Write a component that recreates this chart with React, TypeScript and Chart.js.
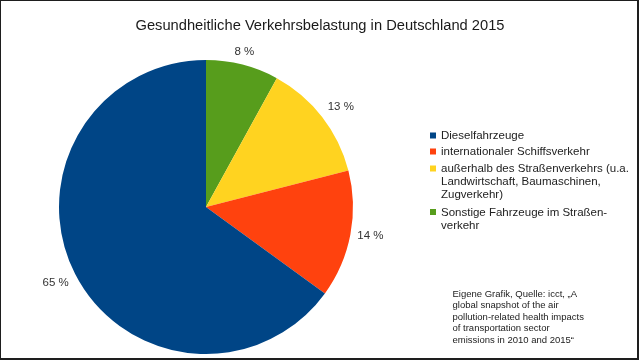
import React, { useEffect, useRef } from "react";
import { Chart, registerables } from "chart.js";

Chart.register(...registerables);

const TITLE = "Gesundheitliche Verkehrsbelastung in Deutschland 2015";
const categories = [
  "Dieselfahrzeuge",
  "internationaler Schiffsverkehr",
  "außerhalb des Straßenverkehrs (u.a. Landwirtschaft, Baumaschinen, Zugverkehr)",
  "Sonstige Fahrzeuge im Straßenverkehr",
];
const values = [65, 14, 13, 8];
const colors = ["#004586", "#ff420e", "#ffd320", "#579d1c"];
const legendLines = [
  ["Dieselfahrzeuge"],
  ["internationaler Schiffsverkehr"],
  ["außerhalb des Straßenverkehrs (u.a.", "Landwirtschaft, Baumaschinen,", "Zugverkehr)"],
  ["Sonstige Fahrzeuge im Straßen-", "verkehr"],
];
const sourceLines = [
  "Eigene Grafik, Quelle: icct, „A",
  "global snapshot of the air",
  "pollution-related health impacts",
  "of transportation sector",
  "emissions in 2010 and 2015“",
];

const FONT = "'Liberation Sans', Arial, sans-serif";

const decorPlugin = {
  id: "decor",
  afterDatasetsDraw(chart: any) {
    const ctx = chart.ctx as CanvasRenderingContext2D;
    ctx.save();
    // slice labels
    const meta = chart.getDatasetMeta(0);
    const data = chart.data.datasets[0].data as number[];
    ctx.font = `11.5px ${FONT}`;
    ctx.fillStyle = "#333333";
    meta.data.forEach((arc: any, i: number) => {
      const p = arc.getProps(["x", "y", "startAngle", "endAngle", "outerRadius"], true);
      const mid = (p.startAngle + p.endAngle) / 2;
      const dx = Math.cos(mid);
      const dy = Math.sin(mid);
      const r = p.outerRadius + 7;
      const px = p.x + r * dx;
      const py = p.y + r * dy;
      ctx.textAlign = dx > 0.3 ? "left" : dx < -0.3 ? "right" : "center";
      ctx.textBaseline = dy < -0.3 ? "bottom" : dy > 0.3 ? "top" : "middle";
      ctx.fillText(`${data[i]} %`, px, py);
    });

    // title
    ctx.font = `14.7px ${FONT}`;
    ctx.fillStyle = "#1a1a1a";
    ctx.textAlign = "center";
    ctx.textBaseline = "alphabetic";
    ctx.fillText(TITLE, 320, 29.5);

    // legend
    const centers = [[135.5], [151.5], [168.5, 181.5, 194.5], [212, 225]];
    ctx.font = `11.5px ${FONT}`;
    ctx.textAlign = "left";
    ctx.textBaseline = "middle";
    legendLines.forEach((lines, i) => {
      ctx.fillStyle = colors[i];
      ctx.fillRect(430, centers[i][0] - 3, 6, 6);
      ctx.fillStyle = "#222222";
      lines.forEach((ln, j) => ctx.fillText(ln, 441, centers[i][j] + 0.5));
    });

    // source note
    ctx.font = `9.5px ${FONT}`;
    ctx.fillStyle = "#222222";
    ctx.textBaseline = "alphabetic";
    sourceLines.forEach((ln, j) => ctx.fillText(ln, 452.5, 297 + j * 11.4));

    // frame
    ctx.fillStyle = "#1e1e1e";
    ctx.fillRect(0, 0, 639, 1);
    ctx.fillRect(0, 0, 1, 360);
    ctx.fillRect(637, 0, 2, 360);
    ctx.fillRect(0, 358, 639, 2);
    ctx.restore();
  },
};

export default function App() {
  const ref = useRef<HTMLCanvasElement | null>(null);
  useEffect(() => {
    document.body.style.margin = "0";
    const canvas = ref.current!;
    const order = [3, 2, 1, 0];
    const chart = new Chart(canvas, {
      type: "pie",
      data: {
        labels: order.map((i) => categories[i]),
        datasets: [
          {
            data: order.map((i) => values[i]),
            backgroundColor: order.map((i) => colors[i]),
            borderWidth: 0,
          },
        ],
      },
      options: {
        responsive: false,
        devicePixelRatio: 1,
        animation: false,
        layout: { padding: { left: 59, top: 60, right: 286, bottom: 6 } },
        plugins: {
          legend: { display: false },
          tooltip: { enabled: false },
          title: { display: false },
        },
      },
      plugins: [decorPlugin],
    });
    return () => chart.destroy();
  }, []);
  return (
    <div style={{ width: 639, height: 360, background: "#ffffff" }}>
      <canvas ref={ref} width={639} height={360} style={{ display: "block" }} />
    </div>
  );
}
